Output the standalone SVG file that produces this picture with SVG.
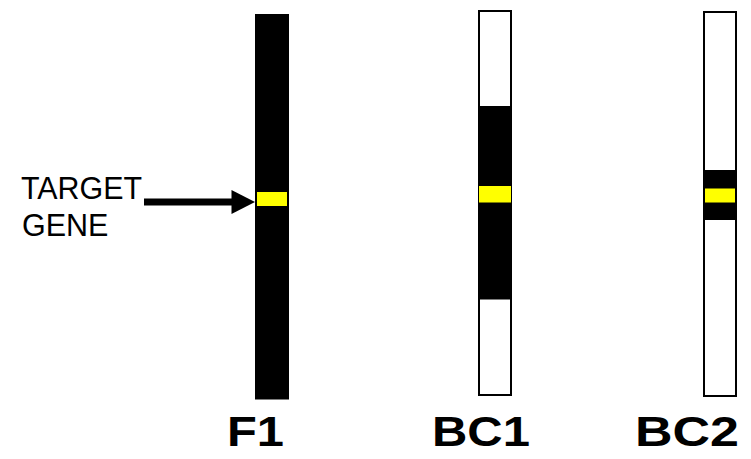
<svg xmlns="http://www.w3.org/2000/svg" width="751" height="459" viewBox="0 0 751 459">
<style>
.lbl{font-family:"Liberation Sans",Arial,sans-serif;font-size:30.5px;fill:#000}
.big{font-family:"Liberation Sans",Arial,sans-serif;font-size:43px;font-weight:bold;fill:#000}
.chr{fill:#fff;stroke:#000;stroke-width:2}
.blk{fill:#000}
.yel{fill:#ffff00}
</style>
<rect width="751" height="459" fill="#fff"/>
<g id="F1">
<rect class="blk" x="255" y="14" width="34" height="385.5"/>
<rect class="yel" x="257" y="192" width="30" height="14"/>
<text class="big" x="227" y="446" textLength="57" lengthAdjust="spacingAndGlyphs">F1</text>
</g>
<g id="BC1">
<rect class="chr" x="479" y="11" width="32" height="384"/>
<rect class="blk" x="478" y="106" width="34" height="193.5"/>
<rect class="yel" x="479" y="186" width="32" height="16.5"/>
<text class="big" x="432" y="446" textLength="98" lengthAdjust="spacingAndGlyphs">BC1</text>
</g>
<g id="BC2">
<rect class="chr" x="704" y="12" width="32" height="384"/>
<rect class="blk" x="703" y="170" width="34" height="50"/>
<rect class="yel" x="705" y="188.5" width="30" height="14"/>
<text class="big" x="635" y="446" textLength="104" lengthAdjust="spacingAndGlyphs">BC2</text>
</g>
<g id="label">
<text class="lbl" x="21" y="199" textLength="121" lengthAdjust="spacingAndGlyphs">TARGET</text>
<text class="lbl" x="22" y="236">GENE</text>
</g>
<g id="connectors">
<line x1="144" y1="202" x2="233" y2="202" stroke="#000" stroke-width="7"/>
<polygon points="231.5,190 255,202 231.5,214" fill="#000"/>
</g>
</svg>
